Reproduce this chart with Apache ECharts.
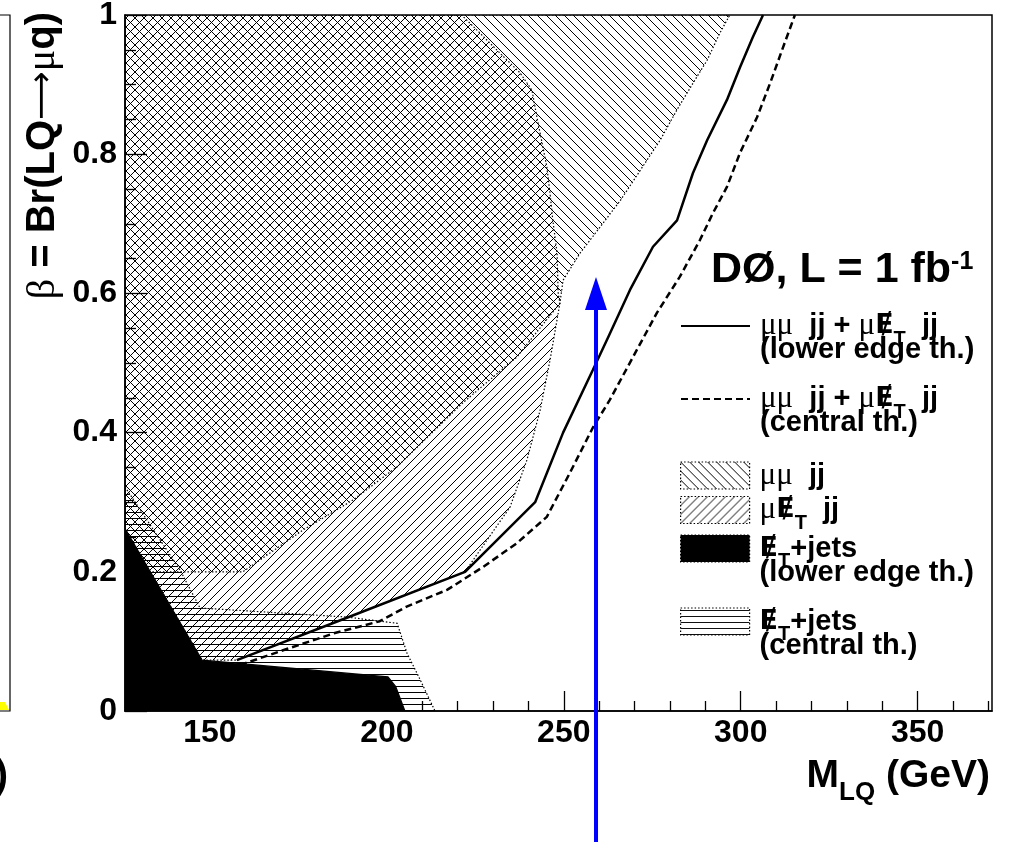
<!DOCTYPE html>
<html lang="en">
<head>
    <meta charset="UTF-8">
    <title>LQ exclusion</title>
    <script type="text/javascript" src="https://cdn.jsdelivr.net/npm/echarts@6.0.0/dist/echarts.min.js"></script>
    <style>
        html, body { margin: 0; padding: 0; background: #fff; }
        #container { width: 1011px; height: 842px; }
    </style>
</head>
<body>
<div id="container"></div>
<script type="text/javascript">
    // excluded regions, [M_LQ (GeV), beta] vertices
    var MUMU_JJ = [[126, 1], [296.9, 1], [294.1, 0.974], [290.5, 0.935], [286.5, 0.902], [282.0, 0.864],
        [277.2, 0.820], [271.5, 0.776], [265.9, 0.733], [260.2, 0.695], [254.6, 0.658], [249.8, 0.619],
        [248.9, 0.586], [236.8, 0.509], [221.5, 0.443], [202.9, 0.351], [190.4, 0.303], [176.3, 0.260],
        [159.3, 0.2], [126, 0.2]];
    var MUNU_JJ = [[126, 1], [221.1, 1], [226.3, 0.974], [232.0, 0.945], [237.6, 0.917], [241.0, 0.892],
        [242.4, 0.853], [244.1, 0.810], [245.2, 0.782], [246.1, 0.744], [246.9, 0.705], [248.1, 0.658],
        [248.4, 0.601], [248.9, 0.586], [246.1, 0.504], [243.3, 0.432], [239.6, 0.361], [234.8, 0.293],
        [226.3, 0.231], [222.1, 0.2], [188.7, 0.134], [157.6, 0.073], [147.8, 0.073], [126, 0.262]];
    var ETJETS_CENTRAL = [[126, 0.322], [141.5, 0.203], [147.2, 0.148], [188.7, 0.135], [202.9, 0.126],
        [205.7, 0.083], [209.4, 0.045], [213.6, 0], [126, 0]];
    var ETJETS_LOWER = [[126, 0.262], [147.8, 0.073], [200.3, 0.049], [202.5, 0.035], [205.1, 0], [126, 0]];

    // combined limits
    var COMB_LOWER = [[157.6, 0.073], [188.7, 0.134], [222.1, 0.2], [241.9, 0.3], [249.8, 0.4], [258.2, 0.49],
        [262.8, 0.54], [268.7, 0.605], [275.2, 0.667], [282.0, 0.705], [286.5, 0.773], [290.5, 0.820],
        [296.1, 0.878], [299.8, 0.925], [303.4, 0.968], [306.3, 1.0]];
    var COMB_CENTRAL = [[158.5, 0.066], [171.7, 0.089], [185.3, 0.112], [198.0, 0.129], [205.6, 0.150],
        [217.0, 0.174], [227.2, 0.207], [236.7, 0.241], [245.2, 0.279], [251.7, 0.342], [258.3, 0.408],
        [263.0, 0.447], [276.3, 0.572], [282.8, 0.624], [288.5, 0.677], [292.2, 0.716], [296.1, 0.753],
        [299.8, 0.802], [304.6, 0.853], [308.3, 0.902], [311.7, 0.95], [315.3, 1.0]];

    // blue marker arrow
    var ARROW = [[259.1, -0.19], [259.1, 0.60]];
    var ARROW_TIP = [259.1, 0.60];

    var X_LABELS = [150, 200, 250, 300, 350];
    var X_MINOR = [130, 140, 160, 170, 180, 190, 210, 220, 230, 240, 260, 270, 280, 290, 310, 320, 330, 340, 360, 370];

    var SANS = 'Liberation Sans';
    var SERIF = "'Liberation Serif', 'DejaVu Serif', serif";
    var DEJAVU = "'DejaVu Sans'";

    // pixel hatch fills like ROOT's fill styles
    function hatch(kind, size) {
        var c = document.createElement('canvas');
        c.width = size; c.height = size;
        var g = c.getContext('2d');
        g.fillStyle = '#000';
        for (var i = 0; i < size; i++) {
            if (kind === 'fwd') g.fillRect(i, size - 1 - i, 1, 1);
            else if (kind === 'back') g.fillRect(i, i, 1, 1);
        }
        if (kind === 'horiz') g.fillRect(0, 2, size, 1);
        return {image: c, repeat: 'repeat'};
    }
    var BACK = hatch('back', 9);
    var FWD = hatch('fwd', 9);
    var HORIZ = hatch('horiz', 6);

    function region(points, fill, dotted) {
        return function (params, api) {
            if (params.dataIndex !== 0) return null;
            return {
                type: 'polygon',
                shape: {points: points.map(function (p) { return api.coord(p); })},
                style: {fill: fill, stroke: '#000', lineWidth: 1.2, lineDash: dotted ? [1.5, 2] : null}
            };
        };
    }

    var RICH = {
        b: {fontFamily: SANS, fontWeight: 'bold', fontSize: 29, lineHeight: 24, color: '#000'},
        e: {fontFamily: DEJAVU, fontWeight: 'bold', fontSize: 27, lineHeight: 24, color: '#000'},
        m: {fontFamily: SERIF, fontSize: 31, lineHeight: 24, color: '#000'},
        t: {fontFamily: SANS, fontWeight: 'bold', fontSize: 20, lineHeight: 24, color: '#000', padding: [26, 0, 0, 0]}
    };

    function legendOne(top, item, text, twoLines) {
        return {
            orient: 'vertical', left: 680, top: top, padding: 0,
            itemWidth: 69, itemHeight: 27, selectedMode: false,
            data: [item],
            formatter: function () { return text; },
            textStyle: {
                padding: twoLines ? [24, 0, 0, 5] : [0, 0, 0, 5],
                backgroundColor: 'rgba(0,0,0,0)',
                rich: RICH
            }
        };
    }

    var boxStyle = {borderColor: '#000', borderWidth: 1.2, borderType: [1.5, 2]};
    var combText = '{m|μμ}{b|  jj + }{m|μ}{e|Ɇ}{t|T}{b|  jj}';
    var etText = '{e|Ɇ}{t|T}{b|+jets}';

    var dom = document.getElementById('container');
    var myChart = echarts.init(dom, null, {renderer: 'canvas'});
    var option = {
        animation: false,
        backgroundColor: '#fff',
        title: {
            left: 711, top: 247, padding: 0,
            text: '{a|DØ, L = 1 fb}{s|-1}',
            textStyle: {
                rich: {
                    a: {fontFamily: SANS, fontWeight: 'bold', fontSize: 43, lineHeight: 46, color: '#000'},
                    s: {fontFamily: SANS, fontWeight: 'bold', fontSize: 25, lineHeight: 46, color: '#000', padding: [0, 0, 16, 0]}
                }
            }
        },
        legend: [
            legendOne(290, {name: 'comb lower', itemStyle: {opacity: 0}}, combText + '\n{b|(lower edge th.)}', true),
            legendOne(363, {name: 'comb central', itemStyle: {opacity: 0}}, combText + '\n{b|(central th.)}', true),
            legendOne(460, {name: 'mumu jj', icon: 'rect', itemStyle: boxStyle}, '{m|μμ}{b|  jj}', false),
            legendOne(487, {name: 'munu jj', icon: 'rect', itemStyle: boxStyle}, '{m|μ}{e|Ɇ}{t|T}{b|  jj}', false),
            legendOne(512.5, {name: 'etjets lower', icon: 'rect', itemStyle: boxStyle}, etText + '\n{b|(lower edge th.)}', true),
            legendOne(585.5, {name: 'etjets central', icon: 'rect', itemStyle: boxStyle}, etText + '\n{b|(central th.)}', true)
        ],
        grid: {
            left: 125, right: 19, top: 15, bottom: 131,
            containLabel: false, outerBoundsMode: 'none',
            show: true, borderColor: '#000', borderWidth: 1.5, backgroundColor: 'transparent'
        },
        xAxis: [{
            type: 'value', min: 126, max: 371, position: 'bottom',
            axisLine: {show: true, lineStyle: {color: '#000', width: 1.5}},
            axisTick: {show: true, inside: true, length: 20, customValues: X_LABELS, lineStyle: {color: '#000', width: 1.3}},
            axisLabel: {
                customValues: X_LABELS, margin: 6, color: '#000',
                fontFamily: SANS, fontWeight: 'bold', fontSize: 32
            },
            splitLine: {show: false}
        }, {
            type: 'value', min: 126, max: 371, position: 'bottom',
            axisLine: {show: false},
            axisTick: {show: true, inside: true, length: 10, customValues: X_MINOR, lineStyle: {color: '#000', width: 1.3}},
            axisLabel: {show: false},
            splitLine: {show: false}
        }],
        yAxis: {
            type: 'value', min: 0, max: 1, interval: 0.2,
            axisLine: {show: true, lineStyle: {color: '#000', width: 1.5}},
            axisTick: {show: true, inside: true, length: 22, lineStyle: {color: '#000', width: 1.3}},
            minorTick: {show: true, splitNumber: 4, length: 11, lineStyle: {color: '#000', width: 1.3}},
            axisLabel: {margin: 8, color: '#000', fontFamily: SANS, fontWeight: 'bold', fontSize: 32},
            splitLine: {show: false}
        },
        graphic: [
            {
                type: 'text', x: 43, y: 12, rotation: Math.PI / 2,
                style: {
                    text: '{g|β}{b| = Br(LQ}{a|⟶}{g|μ}{b|q)}',
                    align: 'right', verticalAlign: 'middle',
                    rich: {
                        b: {fontFamily: SANS, fontWeight: 'bold', fontSize: 40, fill: '#000'},
                        g: {fontFamily: SERIF, fontSize: 40, fill: '#000'},
                        a: {fontFamily: DEJAVU, fontSize: 34, fill: '#000'}
                    }
                }
            },
            {
                type: 'text', x: 990, y: 776,
                style: {
                    text: '{b|M}{t|LQ}{b| (GeV)}',
                    align: 'right', verticalAlign: 'middle',
                    rich: {
                        b: {fontFamily: SANS, fontWeight: 'bold', fontSize: 39, lineHeight: 40, fill: '#000'},
                        t: {fontFamily: SANS, fontWeight: 'bold', fontSize: 26, lineHeight: 40, fill: '#000', padding: [34, 0, 0, 0]}
                    }
                }
            },
            // edge of the neighbouring panel
            {type: 'polyline', shape: {points: [[0, 15], [10, 15], [10, 711], [0, 711]]}, style: {stroke: '#000', lineWidth: 1.2, fill: null}},
            {type: 'polygon', shape: {points: [[0, 702], [5, 702], [9, 710], [0, 710]]}, style: {fill: '#ffff00'}},
            {type: 'text', x: 8, y: 777, style: {text: ')', align: 'right', verticalAlign: 'middle', font: 'bold 40px Liberation Sans', fill: '#000'}}
        ],
        series: [
            {name: 'mumu jj', type: 'custom', data: MUMU_JJ, clip: true, itemStyle: {color: BACK},
                renderItem: region(MUMU_JJ, BACK, true)},
            {name: 'munu jj', type: 'custom', data: MUNU_JJ, clip: true, itemStyle: {color: FWD},
                renderItem: region(MUNU_JJ, FWD, true)},
            {name: 'etjets central', type: 'custom', data: ETJETS_CENTRAL, clip: true, itemStyle: {color: HORIZ},
                renderItem: region(ETJETS_CENTRAL, HORIZ, true)},
            {name: 'etjets lower', type: 'custom', data: ETJETS_LOWER, clip: true, itemStyle: {color: '#000'},
                renderItem: region(ETJETS_LOWER, '#000', false)},
            {name: 'comb lower', type: 'line', data: COMB_LOWER, symbol: 'none', showSymbol: false,
                lineStyle: {color: '#000', width: 2.5, type: 'solid'}, itemStyle: {color: '#000'}},
            {name: 'comb central', type: 'line', data: COMB_CENTRAL, symbol: 'none', showSymbol: false,
                lineStyle: {color: '#000', width: 2.5, type: [7, 4]}, itemStyle: {color: '#000'}},
            {name: 'arrow', type: 'line', data: ARROW, symbol: 'none', clip: false, silent: true, z: 10,
                lineStyle: {color: '#0000ff', width: 4},
                markPoint: {
                    symbol: 'triangle', symbolSize: [22, 33], silent: true,
                    itemStyle: {color: '#0000ff'}, label: {show: false},
                    data: [{coord: ARROW_TIP}]
                }}
        ]
    };
    myChart.setOption(option);
</script>
</body>
</html>
